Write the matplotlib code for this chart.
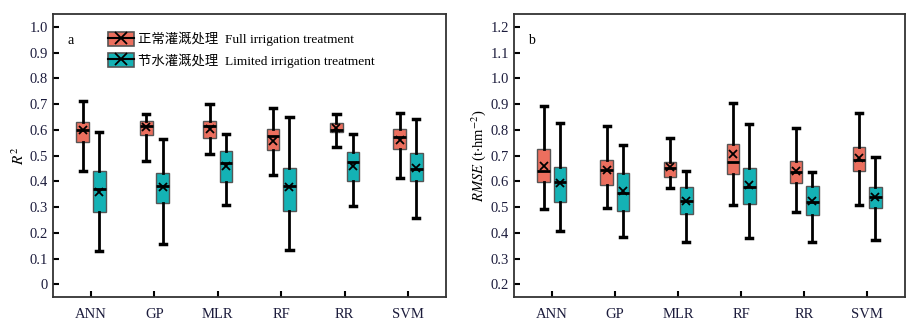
import matplotlib
matplotlib.use("Agg")
import matplotlib.pyplot as plt
from matplotlib.patches import Patch
from matplotlib.lines import Line2D
from matplotlib.legend_handler import HandlerTuple

# Categories (models)
models = ['ANN', 'GP', 'MLR', 'RF', 'RR', 'SVM']

# R^2 box statistics: whisker low, q1, median, q3, whisker high, mean
r2_full_lo = [0.440, 0.480, 0.508, 0.426, 0.535, 0.413]
r2_full_q1 = [0.552, 0.580, 0.570, 0.521, 0.590, 0.527]
r2_full_med = [0.600, 0.616, 0.617, 0.578, 0.600, 0.571]
r2_full_q3 = [0.632, 0.636, 0.636, 0.605, 0.627, 0.605]
r2_full_hi = [0.714, 0.662, 0.701, 0.684, 0.662, 0.666]
r2_full_mean = [0.600, 0.613, 0.603, 0.555, 0.609, 0.561]

r2_lim_lo = [0.130, 0.158, 0.309, 0.132, 0.304, 0.257]
r2_lim_q1 = [0.280, 0.316, 0.397, 0.283, 0.400, 0.400]
r2_lim_med = [0.370, 0.383, 0.473, 0.383, 0.475, 0.449]
r2_lim_q3 = [0.440, 0.432, 0.517, 0.453, 0.513, 0.509]
r2_lim_hi = [0.591, 0.565, 0.584, 0.651, 0.584, 0.644]
r2_lim_mean = [0.360, 0.377, 0.461, 0.377, 0.461, 0.453]

# RMSE box statistics (t/hm2)
rmse_full_lo = [0.492, 0.497, 0.575, 0.508, 0.481, 0.509]
rmse_full_q1 = [0.597, 0.584, 0.616, 0.629, 0.594, 0.642]
rmse_full_med = [0.642, 0.644, 0.651, 0.675, 0.638, 0.682]
rmse_full_q3 = [0.727, 0.682, 0.677, 0.745, 0.678, 0.732]
rmse_full_hi = [0.893, 0.816, 0.770, 0.904, 0.809, 0.866]
rmse_full_mean = [0.661, 0.643, 0.655, 0.706, 0.640, 0.690]

rmse_lim_lo = [0.408, 0.383, 0.364, 0.379, 0.364, 0.373]
rmse_lim_q1 = [0.519, 0.483, 0.473, 0.513, 0.469, 0.495]
rmse_lim_med = [0.597, 0.556, 0.525, 0.579, 0.519, 0.538]
rmse_lim_q3 = [0.657, 0.631, 0.579, 0.653, 0.581, 0.578]
rmse_lim_hi = [0.826, 0.742, 0.640, 0.823, 0.635, 0.695]
rmse_lim_mean = [0.594, 0.562, 0.523, 0.586, 0.525, 0.538]

c_full = '#EC6F5E'
c_lim = '#14B2B5'
txt_col = '#1c1c3c'

plt.rcParams['font.family'] = ['Liberation Serif', 'Noto Sans CJK SC']
plt.rcParams['mathtext.fontset'] = 'stix'


def make_stats(lo, q1, med, q3, hi, mean):
    return [dict(whislo=lo[i], q1=q1[i], med=med[i], q3=q3[i], whishi=hi[i],
                 mean=mean[i], fliers=[]) for i in range(len(lo))]


def draw_boxes(ax, stats, pos, color):
    ax.bxp(stats, positions=pos, widths=0.2, patch_artist=True, showmeans=True,
           showfliers=False,
           boxprops=dict(facecolor=color, edgecolor='#555555', linewidth=1.0),
           medianprops=dict(color='black', linewidth=2.0),
           whiskerprops=dict(color='black', linewidth=2.0),
           capprops=dict(color='black', linewidth=2.5),
           meanprops=dict(marker='x', markeredgecolor='black', markersize=6,
                          markeredgewidth=1.3))


def style_axes(ax):
    ax.set_xlim(0.4, 6.6)
    ax.set_xticks(range(1, 7))
    ax.set_xticklabels(models)
    ax.tick_params(direction='in', length=4, width=1.5, labelsize=10.5,
                   labelcolor=txt_col)
    ax.tick_params(axis='x', pad=8)
    for s in ax.spines.values():
        s.set_color('#333333')
        s.set_linewidth(1.3)


fig = plt.figure(figsize=(9.14, 3.29), dpi=100)
ax1 = fig.add_axes([0.058, 0.097, 0.430, 0.860])
ax2 = fig.add_axes([0.5624, 0.097, 0.4278, 0.860])

x = list(range(1, 7))
pos_full = [p - 0.13 for p in x]
pos_lim = [p + 0.13 for p in x]

draw_boxes(ax1, make_stats(r2_full_lo, r2_full_q1, r2_full_med, r2_full_q3,
                           r2_full_hi, r2_full_mean), pos_full, c_full)
draw_boxes(ax1, make_stats(r2_lim_lo, r2_lim_q1, r2_lim_med, r2_lim_q3,
                           r2_lim_hi, r2_lim_mean), pos_lim, c_lim)
style_axes(ax1)
ax1.set_ylim(-0.05, 1.05)
ax1.set_yticks([0, 0.1, 0.2, 0.3, 0.4, 0.5, 0.6, 0.7, 0.8, 0.9, 1.0])
ax1.set_yticklabels(['0', '0.1', '0.2', '0.3', '0.4', '0.5', '0.6', '0.7',
                     '0.8', '0.9', '1.0'])
ax1.set_ylabel('$R^2$', fontsize=11, labelpad=2)
ax1.text(0.036, 0.895, 'a', transform=ax1.transAxes, fontsize=10)

draw_boxes(ax2, make_stats(rmse_full_lo, rmse_full_q1, rmse_full_med,
                           rmse_full_q3, rmse_full_hi, rmse_full_mean),
           pos_full, c_full)
draw_boxes(ax2, make_stats(rmse_lim_lo, rmse_lim_q1, rmse_lim_med, rmse_lim_q3,
                           rmse_lim_hi, rmse_lim_mean), pos_lim, c_lim)
style_axes(ax2)
ax2.set_ylim(0.15, 1.25)
ax2.set_yticks([0.2, 0.3, 0.4, 0.5, 0.6, 0.7, 0.8, 0.9, 1.0, 1.1, 1.2])
ax2.set_yticklabels(['%.1f' % v for v in ax2.get_yticks()])
ax2.set_ylabel('$RMSE$ (t$\\cdot$hm$^{-2}$)', fontsize=10.5, labelpad=2)
ax2.text(0.036, 0.895, 'b', transform=ax2.transAxes, fontsize=10)

# Legend
h_full = (Patch(facecolor=c_full, edgecolor='#555555', linewidth=1.2),
          Line2D([], [], color='black', linewidth=1.5),
          Line2D([], [], color='black', marker='x', markersize=9,
                 markeredgewidth=1.3, linestyle='none'))
h_lim = (Patch(facecolor=c_lim, edgecolor='#555555', linewidth=1.2),
         Line2D([], [], color='black', linewidth=1.5),
         Line2D([], [], color='black', marker='x', markersize=9,
                markeredgewidth=1.3, linestyle='none'))
leg = ax1.legend([h_full, h_lim],
                 ['正常灌溉处理  Full irrigation treatment',
                  '节水灌溉处理  Limited irrigation treatment'],
                 handler_map={tuple: HandlerTuple(ndivide=1)},
                 loc='upper left', bbox_to_anchor=(0.112, 0.975), frameon=False,
                 fontsize=9.6, handlelength=1.95, handleheight=1.25,
                 handletextpad=0.35, labelspacing=0.5, borderaxespad=0.4)

fig.savefig('out.png', dpi=100)
